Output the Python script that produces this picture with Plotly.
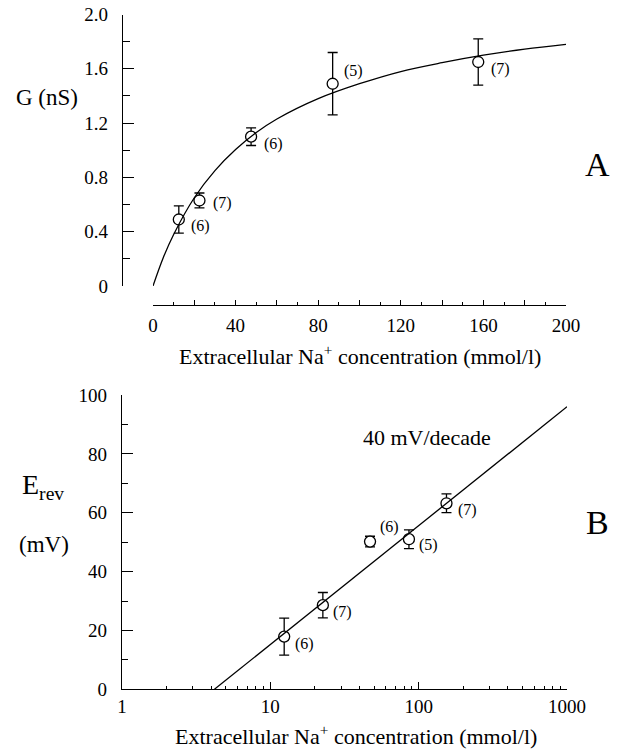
import math
import plotly.graph_objects as go

# ---------------- data ----------------
# Panel A: conductance vs extracellular Na+
na_a = [12.5, 22.5, 47.5, 87, 157.5]
g_ns = [0.49, 0.63, 1.10, 1.49, 1.65]
g_err = [0.10, 0.055, 0.065, 0.23, 0.17]
n_a = ["(6)", "(7)", "(6)", "(5)", "(7)"]
# fitted curve
fit_x = [0, 5, 10, 20, 30, 40, 50, 60, 80, 100, 120, 140, 160, 180, 200]
fit_g = [0, 0.21, 0.38, 0.65, 0.85, 1.005, 1.13, 1.23, 1.38, 1.49, 1.58, 1.645, 1.70, 1.745, 1.78]

# Panel B: reversal potential vs extracellular Na+ (log)
na_b = [12.4, 22.6, 47, 86, 154]
erev = [17.9, 28.6, 50.2, 51.0, 63.2]
erev_err = [6.3, 4.3, 1.8, 3.2, 3.2]
n_b = ["(6)", "(7)", "(6)", "(5)", "(7)"]
line_x = [4.2, 1000]
line_e = [0, 96]

xa_ticks = [0, 20, 40, 60, 80, 100, 120, 140, 160, 180, 200]
xa_text = ["0", " ", "40", " ", "80", " ", "120", " ", "160", " ", "200"]
ya_ticks = [0, 0.4, 0.8, 1.2, 1.6, 2.0]
ya_text = ["0", "0.4", "0.8", "1.2", "1.6", "2.0"]
xb_ticks = [1, 10, 100, 1000]
xb_text = ["1", "10", "100", "1000"]
xb_minor = [2, 3, 4, 5, 6, 7, 8, 9, 20, 30, 40, 50, 60, 70, 80, 90,
            200, 300, 400, 500, 600, 700, 800, 900]
yb_ticks = [0, 20, 40, 60, 80, 100]
yb_text = ["0", "20", "40", "60", "80", "100"]

# label offsets (px) relative to each point
off_a = [(22, -7), (23, -3), (22, -7), (21, 13), (22, -7)]
off_b = [(20, -7), (20, -7), (19, 15), (20, -6), (21, -7)]

# ---------------- layout helpers ----------------
W, H = 620, 749
def fx(px):
    return px / W
def fy(py):
    return 1 - py / H

FONT = "Liberation Serif"
BLACK = "black"

fig = go.Figure()

# Panel A
fig.add_trace(go.Scatter(
    x=na_a, y=g_ns, mode="markers", xaxis="x", yaxis="y",
    marker=dict(symbol="circle", size=11, color="white",
                line=dict(color=BLACK, width=1.3)),
    error_y=dict(type="data", array=g_err, color=BLACK, thickness=1.3, width=5),
    showlegend=False, cliponaxis=False))
fig.add_trace(go.Scatter(
    x=fit_x, y=fit_g, mode="lines", line=dict(color=BLACK, width=1.3, shape="spline"),
    xaxis="x", yaxis="y", showlegend=False, cliponaxis=False))

# Panel B
fig.add_trace(go.Scatter(
    x=na_b, y=erev, mode="markers", xaxis="x2", yaxis="y2",
    marker=dict(symbol="circle", size=11, color="white",
                line=dict(color=BLACK, width=1.3)),
    error_y=dict(type="data", array=erev_err, color=BLACK, thickness=1.3, width=5),
    showlegend=False, cliponaxis=False))
fig.add_trace(go.Scatter(
    x=line_x, y=line_e, mode="lines", line=dict(color=BLACK, width=1.3),
    xaxis="x2", yaxis="y2", showlegend=False, cliponaxis=False))

tickfont = dict(family=FONT, size=19, color=BLACK)
common = dict(showgrid=False, zeroline=False, showline=True, linecolor=BLACK,
              linewidth=1.4, ticks="inside", tickcolor=BLACK, tickwidth=1.3,
              tickfont=tickfont, tickmode="array", automargin=False)

def ann(x, y, text, size, xref="paper", yref="paper", xshift=0, yshift=0):
    return dict(x=x, y=y, xref=xref, yref=yref, text=text, showarrow=False,
                xanchor="center", yanchor="middle", xshift=xshift, yshift=yshift,
                font=dict(family=FONT, size=size, color=BLACK))

annotations = []
for x, y, t, (dx, dy) in zip(na_a, g_ns, n_a, off_a):
    annotations.append(ann(x, y, t, 16, "x", "y", dx, dy))
for x, y, t, (dx, dy) in zip(na_b, erev, n_b, off_b):
    annotations.append(ann(math.log10(x), y, t, 16, "x2", "y2", dx, dy))

axis_title = "Extracellular Na<sup>+</sup> concentration (mmol/l)"
annotations += [
    ann(fx(360), fy(355), axis_title, 22),
    ann(fx(356), fy(735), axis_title, 22),
    ann(fx(47), fy(97), "G (nS)", 23),
    ann(fx(43), fy(486), "E<sub>rev</sub>", 28),
    ann(fx(44), fy(544), "(mV)", 23),
    ann(fx(427), fy(437), "40 mV/decade", 22),
    ann(fx(597), fy(165), "A", 34),
    ann(fx(597), fy(522), "B", 34),
]

fig.update_layout(
    width=W, height=H, autosize=False,
    margin=dict(l=0, r=0, t=0, b=0),
    paper_bgcolor="white", plot_bgcolor="white",
    xaxis=dict(domain=[fx(153), fx(566)], range=[0, 200], anchor="free", position=fy(305),
               tickvals=xa_ticks, ticktext=xa_text, ticklen=5, ticklabelstandoff=3,
               minor=dict(dtick=10, ticks="inside", ticklen=2.5, tickcolor=BLACK, tickwidth=1.2),
               **common),
    yaxis=dict(domain=[fy(286), fy(14.5)], range=[0, 2], anchor="free", position=fx(122),
               tickvals=ya_ticks, ticktext=ya_text, ticklen=11, ticklabelstandoff=10,
               minor=dict(dtick=0.2, ticks="inside", ticklen=7, tickcolor=BLACK, tickwidth=1.2),
               **common),
    xaxis2=dict(domain=[fx(122), fx(567)], type="log", range=[0, 3], anchor="y2",
                tickvals=xb_ticks, ticktext=xb_text, ticklen=7, ticklabelstandoff=0,
                minor=dict(tickmode="array", tickvals=xb_minor, ticks="inside", ticklen=3.5,
                           tickcolor=BLACK, tickwidth=1.2),
                **common),
    yaxis2=dict(domain=[fy(689.3), fy(395)], range=[0, 100], anchor="x2",
                tickvals=yb_ticks, ticktext=yb_text, ticklen=11, ticklabelstandoff=10,
                minor=dict(dtick=10, ticks="inside", ticklen=6, tickcolor=BLACK, tickwidth=1.2),
                **common),
    annotations=annotations,
)

fig.write_html("out.html")
